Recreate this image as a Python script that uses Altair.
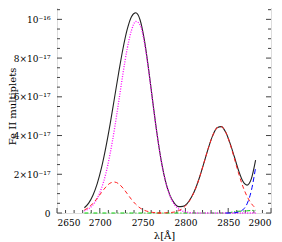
import altair as alt
import pandas as pd

# wavelength grid (Angstrom) and curves (units of 1e-17); None = component not drawn there
wavelength = [2682, 2687, 2692, 2697, 2702, 2707, 2712, 2717, 2722, 2727, 2732, 2737, 2742,
              2747, 2752, 2757, 2762, 2767, 2772, 2777, 2782, 2787, 2792, 2797, 2802, 2807,
              2812, 2817, 2822, 2827, 2832, 2837, 2842, 2847, 2852, 2857, 2862, 2867, 2872,
              2877, 2882]
total = [0.27, 0.51, 0.92, 1.52, 2.34, 3.38, 4.58, 5.90, 7.23, 8.47, 9.48, 10.14, 10.34,
         9.98, 8.95, 7.43, 5.70, 4.04, 2.64, 1.60, 0.91, 0.51, 0.33, 0.34, 0.49, 0.81,
         1.28, 1.91, 2.64, 3.38, 4.01, 4.40, 4.46, 4.18, 3.62, 2.93, 2.21, 1.65, 1.44,
         1.76, 2.73]
magenta = [0.11, 0.22, 0.42, 0.76, 1.28, 2.03, 3.05, 4.30, 5.72, 7.18, 8.48, 9.43, 9.89,
           9.72, 8.82, 7.37, 5.67, 4.03, 2.63, 1.59, 0.88, 0.45, 0.21, 0.09, 0.04, 0.01,
           0, 0, 0, 0, 0, 0, 0, 0, 0, 0, 0, 0, 0, 0, 0]
red1 = [0.16, 0.29, 0.50, 0.76, 1.06, 1.34, 1.54, 1.60, 1.51, 1.29, 1.00, 0.70, 0.45,
        0.26, 0.14, 0.07, 0.03, 0.01, 0, None, None, None, None, None, None, None,
        None, None, None, None, None, None, None, None, None, None, None, None, None,
        None, None]
red2 = [None, None, None, None, None, None, None, None, None, None, None, None, None,
        None, None, None, None, 0.00, 0.00, 0.01, 0.02, 0.05, 0.12, 0.24, 0.46, 0.79,
        1.28, 1.91, 2.64, 3.38, 4.01, 4.40, 4.46, 4.18, 3.59, 2.85, 2.07, 1.39, 0.86,
        0.49, 0.25]
blue = [None, None, None, None, None, None, None, None, None, None, None, None, None,
        None, None, None, None, None, None, None, None, None, None, None, None, None,
        None, None, None, None, None, None, None, 0, 0.00, 0.01, 0.05, 0.16, 0.47,
        1.15, 2.34]
green = [0, 0, 0, 0, 0, 0, 0, 0, 0, 0, 0, 0, 0,
         0, 0, 0, 0, 0, 0, 0, 0, 0, 0, 0, 0, 0,
         0, 0, 0, 0, 0, 0, 0, 0, 0.02, 0.07, 0.09, 0.10, 0.11,
         0.13, 0.14]

x_major = [2650, 2700, 2750, 2800, 2850, 2900]
x_minor = [v for v in range(2660, 2900, 10) if v % 50 != 0]
y_major = [0, 2, 4, 6, 8, 10]
y_labels = ["0", "2×10⁻¹⁷", "4×10⁻¹⁷", "6×10⁻¹⁷", "8×10⁻¹⁷", "10⁻¹⁶"]
y_minor = [v / 2 for v in range(1, 22) if v % 4 != 0]
y_title = "Fe II multiplets"
x_title = "λ[Å]"

W, H = 214, 213
FONT = "DejaVu Serif"

label_expr = "[" + ",".join("'" + s + "'" for s in y_labels) + "][round(datum.value/2)]"

x_enc = alt.X("wl:Q", scale=alt.Scale(domain=[2650, 2900], nice=False, zero=False),
              axis=alt.Axis(values=x_major, ticks=False, domain=False, grid=False,
                            format="d", labelFont=FONT, labelFontSize=9, labelColor="black",
                            labelPadding=5, title=x_title, titleFont=FONT, titleFontSize=10,
                            titleFontWeight="normal", titleColor="black", titlePadding=3))
y_enc = alt.Y("v:Q", scale=alt.Scale(domain=[0, 11], nice=False),
              axis=alt.Axis(values=y_major, labelExpr=label_expr, ticks=False, domain=False,
                            grid=False, labelFont=FONT, labelFontSize=9, labelColor="black",
                            labelPadding=7, title=None))


def series(vals):
    return pd.DataFrame({"wl": wavelength, "v": vals})


def line(vals, color, dash=None, width=1.0):
    kw = dict(color=color, strokeWidth=width, interpolate="monotone")
    if dash:
        kw["strokeDash"] = dash
    return alt.Chart(series(vals)).mark_line(**kw).encode(x=x_enc, y=y_enc)


xmaj = pd.DataFrame({"wl": x_major})
xmin = pd.DataFrame({"wl": x_minor})
ymaj = pd.DataFrame({"v": y_major})
ymin = pd.DataFrame({"v": y_minor})

tick_col = "#444444"
ticks = [
    alt.Chart(xmaj).mark_rule(color=tick_col).encode(x=x_enc, y=alt.value(H), y2=alt.value(H - 5)),
    alt.Chart(xmin).mark_rule(color=tick_col).encode(x=x_enc, y=alt.value(H), y2=alt.value(H - 3)),
    alt.Chart(xmaj).mark_rule(color=tick_col).encode(x=x_enc, y=alt.value(0), y2=alt.value(5)),
    alt.Chart(xmin).mark_rule(color=tick_col).encode(x=x_enc, y=alt.value(0), y2=alt.value(3)),
    alt.Chart(ymaj).mark_rule(color=tick_col).encode(y=y_enc, x=alt.value(0), x2=alt.value(5)),
    alt.Chart(ymin).mark_rule(color=tick_col).encode(y=y_enc, x=alt.value(0), x2=alt.value(3)),
    alt.Chart(ymaj).mark_rule(color=tick_col).encode(y=y_enc, x=alt.value(W), x2=alt.value(W - 5)),
    alt.Chart(ymin).mark_rule(color=tick_col).encode(y=y_enc, x=alt.value(W), x2=alt.value(W - 3)),
]

ytitle = alt.Chart(pd.DataFrame({"t": [y_title]})).mark_text(
    font=FONT, fontSize=10, color="black", angle=270, align="center", baseline="middle"
).encode(x=alt.value(-44), y=alt.value(H / 2), text="t:N")

lines = [
    line(green, "#00cc00", [4, 2, 1, 2]),
    line(total, "#222222", None, 1.1),
    line(magenta, "#ff00ff", [1, 1.5], 1.3),
    line(red1, "#ff2020", [4, 3]),
    line(red2, "#ff2020", [4, 3]),
    line(blue, "#0000ff", [5, 3]),
]

chart = alt.layer(*ticks, *lines, ytitle).properties(
    width=W, height=H,
    autosize=alt.AutoSizeParams(type="none"),
    padding={"left": 49, "top": -8, "right": 3, "bottom": 29},
).configure_view(stroke="black", strokeWidth=1).configure(background="white")

chart.save("out.html", embed_options={"renderer": "svg", "actions": False})
